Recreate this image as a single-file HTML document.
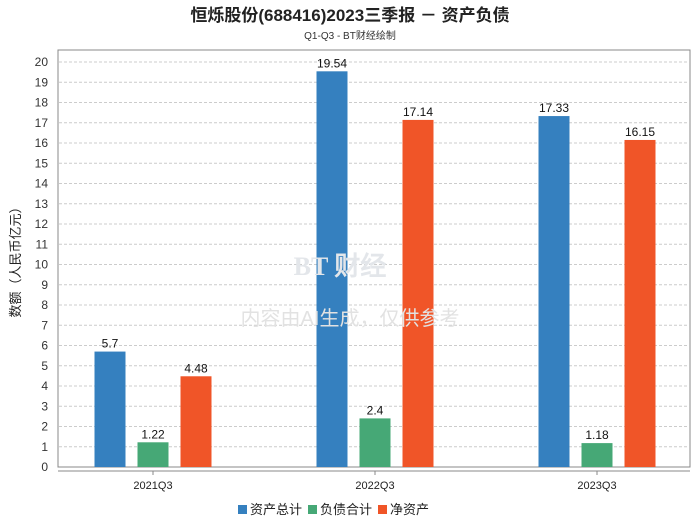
<!DOCTYPE html>
<html><head><meta charset="utf-8"><style>
body{margin:0;background:#fff;width:700px;height:524px;overflow:hidden;font-family:"Liberation Sans","Noto Sans CJK SC",sans-serif}
</style></head><body>
<svg id="c" width="700" height="524" xmlns="http://www.w3.org/2000/svg">
<text x="350" y="21" text-anchor="middle" font-size="17" font-weight="bold" fill="#222" font-family="Liberation Sans,Noto Sans CJK SC,sans-serif">恒烁股份(688416)2023三季报 － 资产负债</text>
<text x="350" y="39" text-anchor="middle" font-size="10" fill="#333" font-family="Liberation Sans,Noto Sans CJK SC,sans-serif">Q1-Q3 - BT财经绘制</text>
<rect x="58" y="50" width="632" height="417" fill="none" stroke="#888"/>
<line x1="58" y1="471" x2="690" y2="471" stroke="#888"/>
<g id="grid"></g><g id="bars"></g>
<text x="340" y="275" text-anchor="middle" font-size="26" font-weight="bold" fill="#e3e6ea" font-family="Liberation Serif,serif">BT 财经</text>
<text x="350" y="325" text-anchor="middle" font-size="20" fill="#e2e2e2" font-family="Liberation Sans,Noto Sans CJK SC,sans-serif">内容由AI生成，仅供参考</text>
<text transform="translate(20,259) rotate(-90)" text-anchor="middle" font-size="13" fill="#222" font-family="Liberation Sans,Noto Sans CJK SC,sans-serif">数额（人民币亿元）</text>
<g>
<rect x="238" y="505" width="9" height="9" fill="#3580bf"/>
<text x="250" y="514" font-size="13" fill="#222" font-family="Liberation Sans,Noto Sans CJK SC,sans-serif">资产总计</text>
<rect x="308" y="505" width="9" height="9" fill="#46a876"/>
<text x="320" y="514" font-size="13" fill="#222" font-family="Liberation Sans,Noto Sans CJK SC,sans-serif">负债合计</text>
<rect x="378" y="505" width="9" height="9" fill="#f05528"/>
<text x="390" y="514" font-size="13" fill="#222" font-family="Liberation Sans,Noto Sans CJK SC,sans-serif">净资产</text>
</g>
</svg>
<script>
const categories=["2021Q3","2022Q3","2023Q3"];
const totalAssets=[5.7,19.54,17.33];
const liabilities=[1.22,2.4,1.18];
const netAssets=[4.48,17.14,16.15];
const yTicks=[0,1,2,3,4,5,6,7,8,9,10,11,12,13,14,15,16,17,18,19,20];
const NS="http://www.w3.org/2000/svg";
const y=v=>467-v*20.25;
const xc=i=>153+i*222;
const g=document.getElementById('grid'),b=document.getElementById('bars');
function mk(t,a,p){const e=document.createElementNS(NS,t);for(const k in a)e.setAttribute(k,a[k]);p.appendChild(e);return e;}
yTicks.forEach(v=>{
 if(v>0){const l=mk('line',{x1:59,x2:689,y1:y(v),y2:y(v),stroke:'#ccc','stroke-dasharray':'3,2'},g);
 
 }
 const t=mk('text',{x:48,y:y(v)+4,'text-anchor':'end','font-size':12,fill:'#333'},g);t.textContent=v;
 
 
});
const series=[[totalAssets,'#3580bf',-43,'bar-total-assets'],[liabilities,'#46a876',0,'bar-liabilities'],[netAssets,'#f05528',43,'bar-net-assets']];
categories.forEach((c,i)=>{
 const tk=mk('line',{x1:xc(i),x2:xc(i),y1:471,y2:475,stroke:'#888'},g);
 
 
 const t=mk('text',{x:xc(i),y:489,'text-anchor':'middle','font-size':11,fill:'#222'},g);t.textContent=c;
 
 
 series.forEach(([d,col,off,nm])=>{
  const cx=xc(i)+off;
  const r=mk('rect',{x:cx-15.5,y:y(d[i]),width:31,height:467-y(d[i]),fill:col},b);
  
  
  const lt=mk('text',{x:cx,y:y(d[i])-4,'text-anchor':'middle','font-size':12,fill:'#111'},b);lt.textContent=d[i];
  
  
 });
});
</script>
</body></html>
